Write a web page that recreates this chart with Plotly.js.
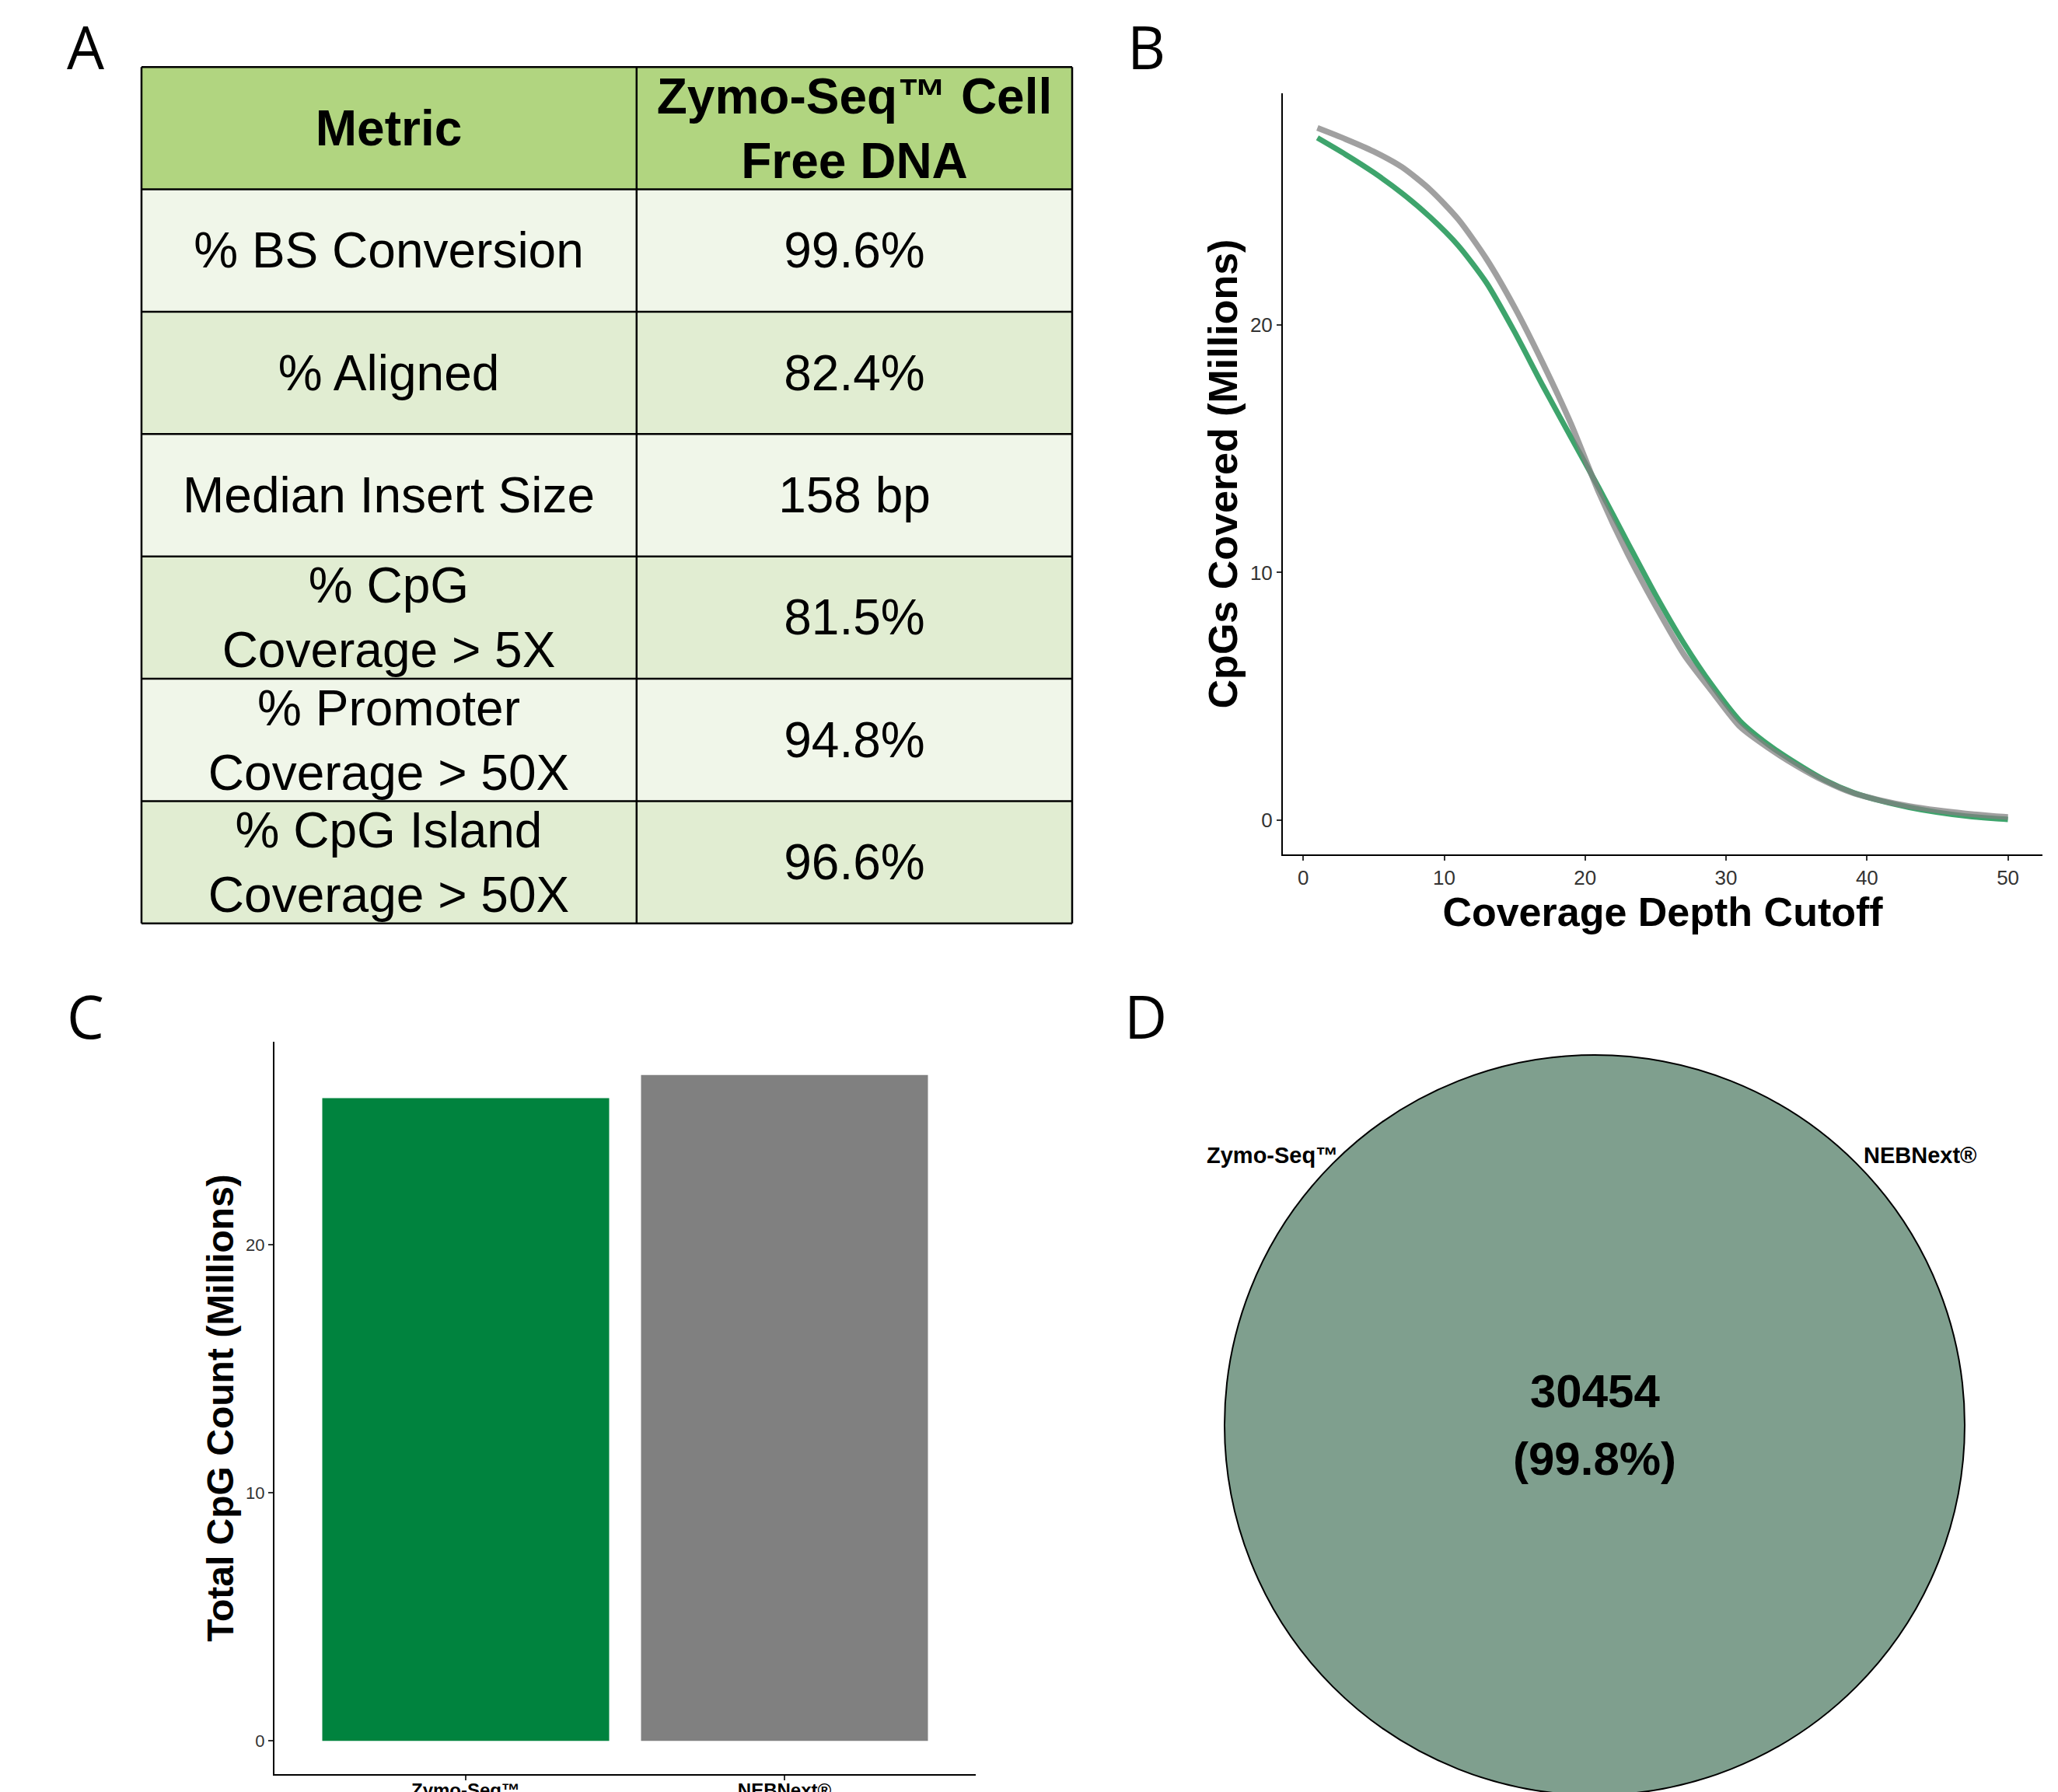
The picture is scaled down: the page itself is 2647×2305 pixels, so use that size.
<!DOCTYPE html>
<html>
<head>
<meta charset="utf-8">
<script src="https://cdn.plot.ly/plotly-3.0.1.min.js"></script>
<style>
html,body{margin:0;padding:0;background:#ffffff;}
#chart{width:2647px;height:2305px;}
</style>
</head>
<body>
<div id="chart"></div>
<script>
// ---------------- DATA ----------------
// Panel A: summary table
const tableHeader = ['Metric', 'Zymo-Seq™ Cell<br>Free DNA'];
const tableMetrics = ['% BS Conversion', '% Aligned', 'Median Insert Size',
  '% CpG<br>Coverage > 5X', '% Promoter<br>Coverage > 50X', '% CpG Island<br>Coverage > 50X'];
const tableValues = ['99.6%', '82.4%', '158 bp', '81.5%', '94.8%', '96.6%'];

// Panel B: CpGs covered (millions) vs coverage depth cutoff
const depthCutoff = [1, 3, 5, 7, 9, 11, 13, 15, 17, 19, 21, 23, 25, 27, 29, 31, 33, 35, 37, 39, 41, 43, 45, 47, 49, 50];
const zymoCpGsCovered = [27.55, 26.88, 26.15, 25.32, 24.35, 23.2, 21.7, 19.71, 17.54, 15.46, 13.39, 11.23, 9.1, 7.15, 5.45, 4.0, 3.05, 2.29, 1.62, 1.12, 0.78, 0.52, 0.32, 0.17, 0.07, 0.03];
const nebCpGsCovered  = [27.95, 27.5, 27.0, 26.37, 25.46, 24.26, 22.66, 20.7, 18.45, 16.0, 13.2, 10.77, 8.65, 6.7, 5.2, 3.77, 2.92, 2.2, 1.58, 1.1, 0.8, 0.57, 0.4, 0.27, 0.17, 0.13];

// Panel C: total CpG count (millions)
const libraryNames = ['Zymo-Seq™', 'NEBNext®'];
const totalCpGCount = [25.9, 26.83];

// Panel D: Venn overlap
const vennSetNames = ['Zymo-Seq™', 'NEBNext®'];
const vennSharedCount = 30454;
const vennSharedPct = 99.8;

// ---------------- LAYOUT HELPERS ----------------
const W = 2647, H = 2305;
const dx = (a, b) => [a / W, b / W];
const dy = (top, bottom) => [1 - bottom / H, 1 - top / H];
const SANS = 'Liberation Sans, Arial, sans-serif';

// ---------------- PANEL A (table as heatmap) ----------------
const colEdges = [0, 0.532, 1];
const nRows = tableMetrics.length + 1;
const rowEdges = Array.from({length: nRows + 1}, (_, i) => i);
const tableText = [tableHeader.map(t => '<b>' + t + '</b>')];
const tableZ = [[2, 2]];
for (let i = 0; i < tableMetrics.length; i++) {
  tableText.push([tableMetrics[i], tableValues[i]]);
  tableZ.push(i % 2 === 0 ? [0, 0] : [1, 1]);
}
const tableTrace = {
  type: 'heatmap', x: colEdges, y: rowEdges, z: tableZ, text: tableText,
  texttemplate: '%{text}', textfont: {family: SANS, size: 64, color: '#000000'},
  colorscale: [[0, '#f0f6e9'], [0.5, '#e1edd2'], [1, '#b1d580']], zmin: 0, zmax: 2,
  showscale: false, hoverinfo: 'skip', xaxis: 'x3', yaxis: 'y3'
};
const gridShapes = [];
for (let i = 0; i <= nRows; i++) {
  gridShapes.push({type: 'line', xref: 'x3', yref: 'y3', x0: 0, x1: 1, y0: i, y1: i,
    line: {color: '#000000', width: 2.5}});
}
colEdges.forEach(c => gridShapes.push({type: 'line', xref: 'x3', yref: 'y3', x0: c, x1: c, y0: 0, y1: nRows,
  line: {color: '#000000', width: 2.5}}));

// ---------------- PANEL B ----------------
const zymoLine = {type: 'scatter', mode: 'lines', x: depthCutoff, y: zymoCpGsCovered,
  line: {color: '#3ea46c', width: 7, shape: 'spline', smoothing: 0.7},
  xaxis: 'x', yaxis: 'y', hoverinfo: 'skip', showlegend: false};
const nebLine = {type: 'scatter', mode: 'lines', x: depthCutoff, y: nebCpGsCovered,
  line: {color: 'rgba(128,128,128,0.75)', width: 7.5, shape: 'spline', smoothing: 0.7},
  xaxis: 'x', yaxis: 'y', hoverinfo: 'skip', showlegend: false};

// ---------------- PANEL C ----------------
const bars = {type: 'bar', x: libraryNames, y: totalCpGCount, width: 0.9,
  marker: {color: ['#00833e', '#808080'], line: {width: 0}},
  xaxis: 'x2', yaxis: 'y2', hoverinfo: 'skip', showlegend: false};

// ---------------- PANEL D ----------------
const vennR = Math.sqrt(vennSharedCount / Math.PI);
const pxPerUnit = 476 / vennR;
const vCx = 2051, vCy = 1833;
const dLeft = 1500, dRight = 2602, dTop = 1330, dBottom = 2305;

const axisCommon = {showgrid: false, zeroline: false, showline: true, linecolor: '#000000', linewidth: 2,
  ticks: 'outside', ticklen: 6, tickwidth: 2, tickcolor: '#333333', automargin: false, fixedrange: true};

const letterFont = {family: 'Open Sans', size: 76, color: '#000000', weight: 500};

const layout = {
  width: W, height: H, autosize: false,
  margin: {l: 0, r: 0, t: 0, b: 0, pad: 0},
  paper_bgcolor: '#ffffff', plot_bgcolor: 'rgba(0,0,0,0)',
  showlegend: false,
  xaxis: Object.assign({}, axisCommon, {domain: dx(1650, 2627), anchor: 'y', range: [-1.45, 52.45],
    tickvals: [0, 10, 20, 30, 40, 50], tickfont: {family: SANS, size: 26, color: '#333333'},
    title: {text: 'Coverage Depth Cutoff', standoff: 0, font: {family: SANS, size: 52, color: '#000000', weight: 'bold'}}}),
  yaxis: Object.assign({}, axisCommon, {domain: dy(120, 1099), anchor: 'x', range: [-1.38, 29.35],
    tickvals: [0, 10, 20], tickfont: {family: SANS, size: 26, color: '#333333'},
    title: {text: 'CpGs Covered (Millions)', standoff: 0, font: {family: SANS, size: 52, color: '#000000', weight: 'bold'}}}),
  xaxis2: Object.assign({}, axisCommon, {domain: dx(353, 1255), anchor: 'y2', type: 'category', range: [-0.6, 1.6],
    ticklabelstandoff: -8,
    tickfont: {family: SANS, size: 24, color: '#000000', weight: 'bold'}}),
  yaxis2: Object.assign({}, axisCommon, {domain: dy(1340, 2282), anchor: 'x2', range: [-1.34, 28.17],
    tickvals: [0, 10, 20], tickfont: {family: SANS, size: 22, color: '#333333'},
    title: {text: 'Total CpG Count (Millions)', standoff: 0, font: {family: SANS, size: 48, color: '#000000', weight: 'bold'}}}),
  xaxis3: {domain: dx(176, 1385), anchor: 'y3', range: [-0.005, 1.005], visible: false, fixedrange: true},
  yaxis3: {domain: dy(83, 1191), anchor: 'x3', range: [nRows + 0.02, -0.02], visible: false, fixedrange: true},
  xaxis4: {domain: dx(dLeft, dRight), anchor: 'y4', visible: false, fixedrange: true,
    range: [-(vCx - dLeft) / pxPerUnit, (dRight - vCx) / pxPerUnit]},
  yaxis4: {domain: dy(dTop, dBottom), anchor: 'x4', visible: false, fixedrange: true,
    range: [-(dBottom - vCy) / pxPerUnit, (vCy - dTop) / pxPerUnit]},
  shapes: gridShapes.concat([
    {type: 'circle', xref: 'x4', yref: 'y4', x0: -vennR, x1: vennR, y0: -vennR, y1: vennR,
      fillcolor: '#7f9f8e', line: {color: '#000000', width: 2}, layer: 'below'}
  ]),
  annotations: [
    {text: 'A', xref: 'paper', yref: 'paper', x: 110 / W, y: 1 - 59 / H, showarrow: false, xanchor: 'center', yanchor: 'middle', font: letterFont},
    {text: 'B', xref: 'paper', yref: 'paper', x: 1474 / W, y: 1 - 59 / H, showarrow: false, xanchor: 'center', yanchor: 'middle', font: letterFont},
    {text: 'C', xref: 'paper', yref: 'paper', x: 110 / W, y: 1 - 1306 / H, showarrow: false, xanchor: 'center', yanchor: 'middle', font: letterFont},
    {text: 'D', xref: 'paper', yref: 'paper', x: 1473 / W, y: 1 - 1306 / H, showarrow: false, xanchor: 'center', yanchor: 'middle', font: letterFont},
    {text: vennSetNames[0], xref: 'x4', yref: 'y4', x: -0.87 * vennR, y: 0.73 * vennR, showarrow: false, xanchor: 'center', yanchor: 'middle', font: {family: SANS, size: 29, color: '#000000', weight: 'bold'}},
    {text: vennSetNames[1], xref: 'x4', yref: 'y4', x: 0.88 * vennR, y: 0.73 * vennR, showarrow: false, xanchor: 'center', yanchor: 'middle', font: {family: SANS, size: 29, color: '#000000', weight: 'bold'}},
    {text: String(vennSharedCount), xref: 'x4', yref: 'y4', x: 0, y: 0.092 * vennR, showarrow: false, xanchor: 'center', yanchor: 'middle', font: {family: SANS, size: 60, color: '#000000', weight: 'bold'}},
    {text: '(' + vennSharedPct.toFixed(1) + '%)', xref: 'x4', yref: 'y4', x: 0, y: -0.092 * vennR, showarrow: false, xanchor: 'center', yanchor: 'middle', font: {family: SANS, size: 60, color: '#000000', weight: 'bold'}}
  ]
};

Plotly.newPlot('chart', [tableTrace, zymoLine, nebLine, bars], layout, {displayModeBar: false, staticPlot: true});
</script>
</body>
</html>
